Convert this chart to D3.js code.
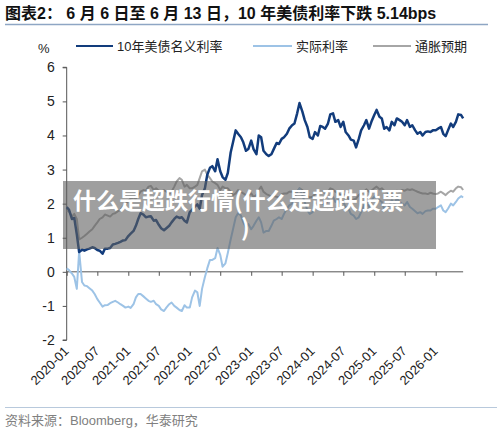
<!DOCTYPE html>
<html>
<head>
<meta charset="utf-8">
<script src="https://cdn.jsdelivr.net/npm/d3@7"></script>
<style>
  body { margin: 0; background: #fff; }
  svg { display: block; font-family: "Liberation Sans", Arial, "Noto Sans CJK SC", sans-serif; }
</style>
</head>
<body>
<svg id="chart" width="500" height="432"></svg>
<script>
// half-monthly observations, 2020-01-01 .. 2026-06-13
const dates = [];
for (let y = 2020; y <= 2026; y++) {
  for (let m = 0; m < 12; m++) {
    for (const d of [1, 15]) {
      const dt = new Date(Date.UTC(y, m, d));
      if (dt < new Date(Date.UTC(2026, 5, 13))) dates.push(dt);
    }
  }
}
dates.length = 155;
dates.push(new Date(Date.UTC(2026, 5, 13)));

const nominal = [
  1.90, 1.82, 1.55, 1.58, 1.10, 0.58, 0.65, 0.62, 0.66, 0.68, 0.72, 0.70,
  0.64, 0.62, 0.53, 0.68, 0.68, 0.70, 0.80, 0.82, 0.85, 0.88, 0.92, 0.93,
  1.05, 1.12, 1.20, 1.35, 1.55, 1.72, 1.68, 1.60, 1.62, 1.63, 1.50, 1.52,
  1.38, 1.28, 1.22, 1.28, 1.35, 1.45, 1.55, 1.62, 1.58, 1.60, 1.50, 1.45,
  1.75, 1.82, 1.92, 1.98, 1.85, 2.25, 2.45, 2.85, 3.05, 3.10, 2.95, 3.30,
  2.95, 2.78, 2.70, 2.90, 3.50, 3.80, 4.15, 4.05, 3.95, 3.80, 3.55, 3.60,
  3.85, 3.60, 3.45, 4.00, 3.95, 3.55, 3.45, 3.40, 3.45, 3.60, 3.78, 3.75,
  3.90, 3.95, 4.05, 4.20, 4.30, 4.35, 4.65, 4.95, 4.70, 4.45, 4.25, 3.95,
  3.90, 4.10, 4.00, 4.28, 4.25, 4.20, 4.35, 4.62, 4.65, 4.40, 4.45, 4.25,
  4.40, 4.10, 4.00, 3.88, 3.85, 3.65, 3.90, 4.15, 4.30, 4.45, 4.20, 4.40,
  4.60, 4.75, 4.55, 4.50, 4.20, 4.25, 4.15, 4.40, 4.30, 4.50, 4.45, 4.40,
  4.30, 4.45, 4.25, 4.30, 4.15, 4.05, 4.10, 4.00, 4.10, 4.12, 4.10, 4.15,
  4.15, 4.20, 4.25, 4.05, 3.98, 4.15, 4.35, 4.25, 4.40, 4.62, 4.60, 4.50
];

const realRate = [
   0.10,  0.05, -0.05, -0.15, -0.50,  0.60, -0.30, -0.40, -0.42, -0.48, -0.55, -0.65,
  -0.80, -0.90, -1.02, -0.98, -0.97, -0.92, -0.88, -0.85, -0.90, -0.95, -1.00, -1.05,
  -1.02, -1.06, -0.95, -0.75, -0.65, -0.65, -0.72, -0.78, -0.85, -0.88, -0.85, -0.95,
  -1.00, -1.10, -1.15, -1.05, -0.95, -0.90, -1.00, -1.05, -1.12, -1.15, -0.98, -1.05,
  -1.05, -0.75, -0.55, -0.60, -1.00, -0.50, -0.15,  0.10,  0.35,  0.35,  0.40,  0.70,
   0.50,  0.15,  0.25,  0.55,  0.95,  1.25,  1.60,  1.72,  1.65,  1.45,  1.30,  1.40,
   1.25,  1.35,  1.50,  1.60,  1.45,  1.15,  1.20,  1.20,  1.35,  1.50,  1.55,  1.60,
   1.55,  1.70,  1.85,  1.95,  2.00,  2.20,  2.35,  2.45,  2.25,  2.05,  1.80,  1.70,
   1.75,  1.95,  1.90,  2.05,  2.00,  1.95,  2.10,  2.20,  2.20,  2.05,  2.10,  2.00,
   2.05,  1.90,  1.85,  1.70,  1.65,  1.55,  1.60,  1.75,  1.95,  2.05,  1.90,  2.10,
   2.20,  2.25,  2.10,  2.05,  1.85,  1.90,  1.95,  2.10,  2.00,  2.15,  2.05,  2.00,
   1.95,  2.05,  1.90,  1.85,  1.78,  1.72,  1.75,  1.70,  1.78,  1.80,  1.80,  1.85,
   1.85,  1.90,  1.95,  1.80,  1.75,  1.85,  2.00,  1.95,  2.05,  2.15,  2.22,  2.18
];

const breakeven = [
  1.80, 1.77, 1.62, 1.70, 1.55, 0.95, 1.00, 1.05, 1.12, 1.18, 1.25, 1.35,
  1.45, 1.55, 1.60, 1.68, 1.65, 1.62, 1.70, 1.72, 1.78, 1.82, 1.92, 1.98,
  2.08, 2.15, 2.18, 2.15, 2.25, 2.35, 2.40, 2.38, 2.50, 2.52, 2.40, 2.45,
  2.38, 2.35, 2.40, 2.35, 2.30, 2.35, 2.50, 2.65, 2.75, 2.70, 2.50, 2.55,
  2.45, 2.45, 2.50, 2.55, 2.75, 2.95, 3.00, 2.85, 2.75, 2.65, 2.60, 2.55,
  2.40, 2.50, 2.45, 2.45, 2.35, 2.25, 2.30, 2.40, 2.35, 2.30, 2.25, 2.22,
  2.30, 2.20, 2.25, 2.40, 2.50, 2.35, 2.28, 2.25, 2.20, 2.22, 2.20, 2.18,
  2.28, 2.30, 2.30, 2.35, 2.35, 2.30, 2.35, 2.45, 2.40, 2.30, 2.22, 2.18,
  2.20, 2.28, 2.30, 2.35, 2.35, 2.32, 2.35, 2.45, 2.42, 2.35, 2.30, 2.25,
  2.28, 2.25, 2.15, 2.10, 2.12, 2.15, 2.25, 2.30, 2.35, 2.42, 2.35, 2.38,
  2.45, 2.50, 2.42, 2.45, 2.38, 2.35, 2.25, 2.35, 2.30, 2.38, 2.35, 2.40,
  2.38, 2.42, 2.40, 2.42, 2.38, 2.35, 2.32, 2.30, 2.30, 2.28, 2.32, 2.30,
  2.28, 2.30, 2.35, 2.30, 2.25, 2.32, 2.38, 2.35, 2.45, 2.50, 2.48, 2.40
];

const seriesNames = ["10年美债名义利率", "实际利率", "通胀预期"];
const yTicks = [-2, -1, 0, 1, 2, 3, 4, 5, 6];
const titleText = "图表2：  6 月 6 日至 6 月 13 日，10 年美债利率下跌 5.14bps";
const sourceText = "资料来源：Bloomberg，华泰研究";
const overlayLines = ["什么是超跌行情(什么是超跌股票", ")"];

const svg = d3.select("#chart");

const x = d3.scaleUtc()
  .domain([new Date(Date.UTC(2020, 0, 1)), new Date(Date.UTC(2026, 0, 1))])
  .range([66.7, 435.7]);
const y = d3.scaleLinear().domain([-2, 6]).range([340, 67.3]);

// title + rules
svg.append("text")
  .attr("x", 5).attr("y", 19)
  .attr("font-size", 16).attr("font-weight", "bold").attr("fill", "#111")
  .text(titleText);
svg.append("line").attr("x1", 5).attr("x2", 488).attr("y1", 24.5).attr("y2", 24.5)
  .attr("stroke", "#8ea6c4").attr("stroke-width", 1.5);
svg.append("line").attr("x1", 5).attr("x2", 497).attr("y1", 407.5).attr("y2", 407.5)
  .attr("stroke", "#b8c9dc").attr("stroke-width", 1.2);
svg.append("text")
  .attr("x", 5).attr("y", 425)
  .attr("font-size", 13).attr("fill", "#808080")
  .text(sourceText);

// y axis
const yAxis = svg.append("g")
  .attr("transform", `translate(${x.range()[0]},0)`)
  .call(d3.axisLeft(y).tickValues(yTicks).tickSize(4).tickPadding(8).tickFormat(d => String(d)));
yAxis.select(".domain").attr("stroke", "#555").attr("d", `M-4,${y(6)}H0V${y(-2)}H-4`);
yAxis.selectAll(".tick line").attr("stroke", "#555");
yAxis.selectAll(".tick text").attr("font-size", 14).attr("fill", "#222")
  .attr("font-family", "Liberation Sans, Arial, sans-serif");

svg.append("text").attr("x", 38).attr("y", 53)
  .attr("font-size", 13).attr("fill", "#222").text("%");

// x axis on zero line, labels at the bottom
const xEnd = x(dates[dates.length - 1]);
const xTicks = d3.utcMonth.every(6).range(x.domain()[0], new Date(Date.UTC(2026, 1, 1)));
const xAxis = svg.append("g")
  .attr("transform", `translate(0,${y(0)})`)
  .call(d3.axisBottom(x).tickValues(xTicks).tickSize(4).tickFormat(""));
xAxis.select(".domain").attr("stroke", "#555").attr("d", `M${x.range()[0]},0H${xEnd}`);
xAxis.selectAll(".tick line").attr("stroke", "#555");

svg.append("g").selectAll("text")
  .data(xTicks)
  .join("text")
  .attr("transform", d => `translate(${x(d) + 3},${y(-2) + 12}) rotate(-45)`)
  .attr("text-anchor", "end")
  .attr("font-size", 13).attr("fill", "#222")
  .text(d3.utcFormat("%Y-%m"));

// lines
const series = [
  { values: breakeven, color: "#a6a6a6", width: 2 },
  { values: realRate, color: "#9dc3e6", width: 2 },
  { values: nominal, color: "#123c7c", width: 2.5 }
];
const line = d3.line().x((d, i) => x(dates[i])).y(d => y(d));
svg.append("g").selectAll("path")
  .data(series)
  .join("path")
  .attr("fill", "none")
  .attr("stroke", d => d.color)
  .attr("stroke-width", d => d.width)
  .attr("stroke-linejoin", "round")
  .attr("d", d => line(d.values));

// legend
const legendItems = [
  { name: seriesNames[0], color: "#123c7c", x1: 76, x2: 113 },
  { name: seriesNames[1], color: "#9dc3e6", x1: 253, x2: 292 },
  { name: seriesNames[2], color: "#a6a6a6", x1: 373, x2: 411 }
];
const lg = svg.append("g").selectAll("g").data(legendItems).join("g");
lg.append("line")
  .attr("x1", d => d.x1).attr("x2", d => d.x2).attr("y1", 46).attr("y2", 46)
  .attr("stroke", d => d.color).attr("stroke-width", 2);
lg.append("text")
  .attr("x", d => d.x2 + 4).attr("y", 51)
  .attr("font-size", 13).attr("fill", "#222")
  .text(d => d.name);

// grey overlay banner with white text (one text, wrapped onto two lines)
svg.append("rect")
  .attr("x", 63).attr("y", 181).attr("width", 373).attr("height", 68)
  .attr("fill", "#5f5f5f").attr("opacity", 0.6);
svg.append("text")
  .attr("font-size", 23).attr("font-weight", "bold").attr("fill", "#fff")
  .attr("font-family", "Noto Sans CJK SC, sans-serif")
  .selectAll("tspan")
  .data(overlayLines)
  .join("tspan")
  .attr("x", (d, i) => i === 0 ? 73 : 241)
  .attr("y", (d, i) => 209 + i * 27)
  .text(d => d);
</script>
</body>
</html>
